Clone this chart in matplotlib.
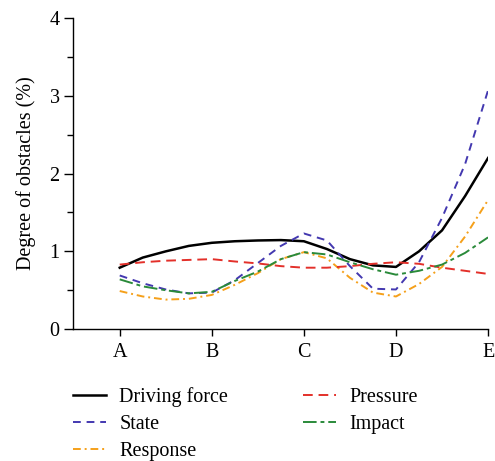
import numpy as np
from matplotlib import pyplot as plt
from matplotlib.ticker import MultipleLocator

plt.rcParams['font.family'] = ['Liberation Serif', 'DejaVu Serif']

categories = ['A', 'B', 'C', 'D', 'E']
# values read at quarter steps between categories
pos = np.arange(17) / 4

driving_force = [0.79, 0.92, 1.00, 1.07, 1.11, 1.13, 1.14, 1.145, 1.13,
                 1.03, 0.90, 0.82, 0.80, 1.00, 1.27, 1.71, 2.20]
state = [0.69, 0.59, 0.51, 0.46, 0.47, 0.63, 0.85, 1.07, 1.23,
         1.14, 0.81, 0.52, 0.51, 0.86, 1.43, 2.12, 3.07]
response = [0.49, 0.42, 0.38, 0.39, 0.44, 0.57, 0.72, 0.90, 0.99,
            0.91, 0.66, 0.47, 0.42, 0.58, 0.80, 1.19, 1.66]
pressure = [0.83, 0.86, 0.88, 0.89, 0.90, 0.87, 0.845, 0.81, 0.79,
            0.79, 0.81, 0.84, 0.86, 0.84, 0.79, 0.75, 0.71]
impact = [0.64, 0.55, 0.50, 0.46, 0.48, 0.62, 0.74, 0.90, 0.99,
          0.96, 0.86, 0.77, 0.70, 0.75, 0.83, 0.98, 1.18]

fs = 14.5

fig = plt.figure(figsize=(4.95, 4.61), dpi=100)
ax = fig.add_axes([0.147, 0.286, 0.839, 0.675])

l1, = ax.plot(pos, driving_force, color='black', lw=1.8, label='Driving force')
l2, = ax.plot(pos, state, color='#4338b0', lw=1.4, ls=(0, (4, 3)), label='State')
l3, = ax.plot(pos, response, color='#f5a01a', lw=1.4, ls=(0, (4, 2, 1, 2)), label='Response')
l4, = ax.plot(pos, pressure, color='#e3302a', lw=1.4, ls=(0, (5, 3)), label='Pressure')
l5, = ax.plot(pos, impact, color='#2a8a3a', lw=1.4, ls=(0, (7, 2, 2, 2)), label='Impact')

ax.set_xlim(-0.51, 4)
ax.set_ylim(0, 4)
ax.set_xticks(range(len(categories)))
ax.set_xticklabels(categories)
ax.yaxis.set_major_locator(MultipleLocator(1))
ax.yaxis.set_minor_locator(MultipleLocator(0.5))
ax.tick_params(axis='y', which='major', length=6.5, width=1, labelsize=fs, pad=3)
ax.tick_params(axis='y', which='minor', length=4.5, width=1)
ax.tick_params(axis='x', length=5, width=1, labelsize=fs, pad=5)
for s in ['top', 'right']:
    ax.spines[s].set_visible(False)
for s in ['left', 'bottom']:
    ax.spines[s].set_linewidth(1)

ax.set_ylabel('Degree of obstacles (%)', fontsize=fs, labelpad=10)

fig.legend(handles=[l1, l2, l3, l4, l5], ncol=2, loc='upper left',
           bbox_to_anchor=(0.127, 0.182), frameon=False, fontsize=fs,
           handlelength=1.65, labelspacing=0.38, columnspacing=3.7,
           handletextpad=0.65, borderpad=0)

plt.savefig('out.png', dpi=100)
